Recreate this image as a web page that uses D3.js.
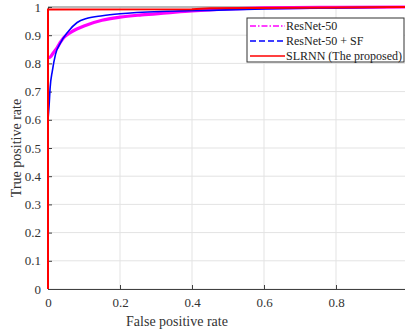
<!DOCTYPE html>
<html>
<head>
<meta charset="utf-8">
<script src="https://cdn.jsdelivr.net/npm/d3@7"></script>
<style>
  body { margin: 0; background: #fff; }
  svg { display: block; font-family: "Liberation Serif", "Times New Roman", serif; }
</style>
</head>
<body>
<svg id="chart" width="405" height="332"></svg>
<script>
// ROC curves
const resnetFpr = [0, 0.006, 0.015, 0.026, 0.035, 0.044, 0.063, 0.08, 0.1, 0.15, 0.2, 0.26, 0.33, 0.4, 0.5, 0.6, 0.8, 1];
const resnetTpr = [0.82, 0.822, 0.838, 0.857, 0.876, 0.892, 0.91, 0.922, 0.933, 0.953, 0.964, 0.972, 0.979, 0.986, 0.993, 0.997, 0.999, 1];

const sfFpr = [0, 0.003, 0.006, 0.012, 0.021, 0.035, 0.054, 0.081, 0.109, 0.151, 0.2, 0.33, 0.47, 0.6, 0.8, 1];
const sfTpr = [0.6, 0.65, 0.715, 0.773, 0.833, 0.874, 0.91, 0.945, 0.96, 0.969, 0.976, 0.985, 0.989, 0.993, 0.997, 1];

const slrnnFpr = [0, 0, 0.4, 0.45, 0.8, 1];
const slrnnTpr = [0, 0.991, 0.992, 0.996, 0.998, 1];

const ticks = [0, 0.1, 0.2, 0.3, 0.4, 0.5, 0.6, 0.7, 0.8, 0.9, 1];
const xTicks = [0, 0.2, 0.4, 0.6, 0.8, 1];
const legendNames = ["ResNet-50", "ResNet-50 + SF", "SLRNN (The proposed)"];

const svg = d3.select("#chart");
const pl = 48, pr = 408, pt = 7, pb = 289;

const x = d3.scaleLinear().domain([0, 1]).range([pl, pr]);
const y = d3.scaleLinear().domain([0, 1]).range([pb, pt]);

// grid
svg.append("g").selectAll("line").data(xTicks).join("line")
  .attr("x1", d => x(d)).attr("x2", d => x(d))
  .attr("y1", pt).attr("y2", pb)
  .attr("stroke", "#e3e3e3").attr("stroke-width", 1);
svg.append("g").selectAll("line").data(ticks).join("line")
  .attr("x1", pl).attr("x2", pr)
  .attr("y1", d => y(d)).attr("y2", d => y(d))
  .attr("stroke", "#e3e3e3").attr("stroke-width", 1);

// box
svg.append("line").attr("x1", pl).attr("x2", pr).attr("y1", pt).attr("y2", pt)
  .attr("stroke", "#808080").attr("stroke-width", 1);

// axes
const xAxis = svg.append("g").attr("transform", `translate(0,${pb})`)
  .call(d3.axisBottom(x).tickValues(xTicks).tickSizeInner(-4).tickSizeOuter(0).tickPadding(9)
    .tickFormat(d => d === 0 ? "0" : d3.format(".1f")(d)));
const yAxis = svg.append("g").attr("transform", `translate(${pl},0)`)
  .call(d3.axisLeft(y).tickValues(ticks).tickSizeInner(-4).tickSizeOuter(0).tickPadding(7)
    .tickFormat(d => (d === 0 || d === 1) ? String(d) : d3.format(".1f")(d)));
[xAxis, yAxis].forEach(a => {
  a.select(".domain").attr("stroke", "#404040");
  a.selectAll(".tick line").attr("stroke", "#404040");
  a.selectAll(".tick text").attr("fill", "#333").style("font-size", "13px")
    .style("font-family", "'Liberation Serif', serif");
});
xAxis.selectAll(".tick").filter(d => d === 1).select("text").remove();

svg.append("text").attr("x", 177).attr("y", 326).attr("text-anchor", "middle")
  .attr("fill", "#333").style("font-size", "14px").text("False positive rate");
svg.append("text").attr("transform", "translate(21,148) rotate(-90)").attr("text-anchor", "middle")
  .attr("fill", "#333").style("font-size", "14px").text("True positive rate");

// curves
const line = d3.line().x(d => x(d[0])).y(d => y(d[1])).curve(d3.curveMonotoneX);
svg.append("clipPath").attr("id", "clip").append("rect")
  .attr("x", pl - 2).attr("y", pt - 2).attr("width", pr - pl + 4).attr("height", pb - pt + 4);
const plot = svg.append("g").attr("clip-path", "url(#clip)");

plot.append("path").datum(d3.zip(resnetFpr, resnetTpr))
  .attr("d", line).attr("fill", "none").attr("stroke", "#ff00ff").attr("stroke-width", 3.2);
plot.append("path").datum(d3.zip(sfFpr, sfTpr))
  .attr("d", line).attr("fill", "none").attr("stroke", "#0000ff").attr("stroke-width", 1.6);
plot.append("path").datum(d3.zip(slrnnFpr, slrnnTpr))
  .attr("d", d3.line().x(d => x(d[0])).y(d => y(d[1]))).attr("fill", "none")
  .attr("stroke", "#ff0000").attr("stroke-width", 2);

// legend
const lg = svg.append("g").attr("transform", "translate(247,18)");
lg.append("rect").attr("width", 157).attr("height", 44)
  .attr("fill", "#fff").attr("stroke", "#333").attr("stroke-width", 1);
const styles = [
  { c: "#ff00ff", dash: "6,2,1.5,2", w: 1.5 },
  { c: "#0000ff", dash: "6,3", w: 1.6 },
  { c: "#ff0000", dash: null, w: 1.6 }
];
legendNames.forEach((name, i) => {
  const yy = 8 + i * 15;
  lg.append("line").attr("x1", 3).attr("x2", 38).attr("y1", yy).attr("y2", yy)
    .attr("stroke", styles[i].c).attr("stroke-width", styles[i].w)
    .attr("stroke-dasharray", styles[i].dash);
  lg.append("text").attr("x", 39).attr("y", yy + 4).attr("fill", "#222")
    .style("font-size", "12px").text(name);
});
</script>
</body>
</html>
